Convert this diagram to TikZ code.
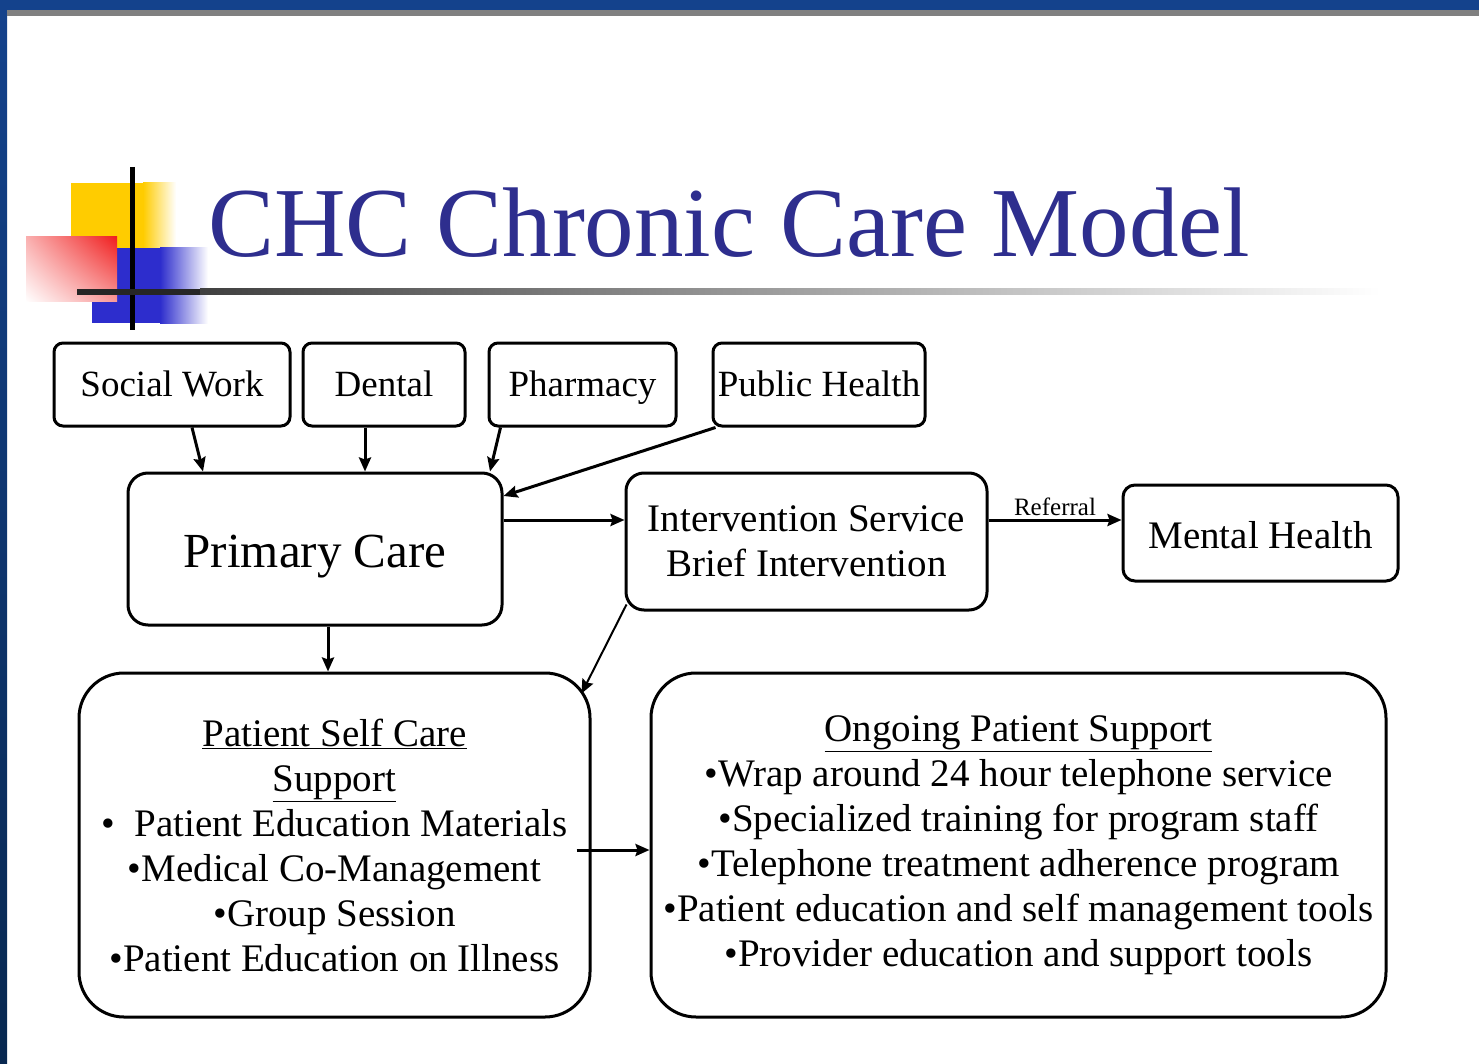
\documentclass[tikz,border=0pt]{standalone}
\usepackage{fontspec}
\setmainfont{Liberation Serif}
\usetikzlibrary{arrows.meta, shadings}
\definecolor{slideblue}{RGB}{20,66,140}
\definecolor{slidenavy}{RGB}{8,40,80}
\definecolor{titleblue}{RGB}{46,46,142}
\definecolor{logoyellow}{RGB}{255,204,0}
\definecolor{logoblue}{RGB}{45,45,205}
\definecolor{logored}{RGB}{240,30,30}

\begin{document}
\begin{tikzpicture}[x=1pt,y=-1pt,
    box/.style={draw, line width=3pt, align=center, inner sep=2pt},
    arr/.style={line width=3pt, -{Stealth[length=14pt,width=12pt,inset=2pt]}},
    small/.style={font=\fontsize{37}{42}\selectfont, text height=28pt, text depth=4pt},
    big/.style={font=\fontsize{39}{45}\selectfont}]
    \useasboundingbox (0,0) rectangle (1479,1064);
    \fill[white] (0,0) rectangle (1479,1064);
    \shade[top color=slideblue, bottom color=slidenavy] (0,0) rectangle (7,1064);
    \fill[slideblue] (0,0) rectangle (1479,10);
    \fill[gray] (7,10) rectangle (1479,16);

    \fill[logoyellow] (71,183) rectangle (143,248);
    \shade[left color=logoyellow, right color=white] (143,183) rectangle (176,248);
    \fill[logoblue] (92,248) rectangle (160,323);
    \shade[left color=logoblue, right color=white] (160,248) rectangle (208,323);
    \shade[upper right=logored, upper left=logored!35, lower right=logored!45, lower left=white] (26,237) rectangle (117,302);
    \draw[line width=5pt] (132,167) -- (132,330);
    \fill[black!85] (77,289) rectangle (200,295);
    \shade[left color=black!75, right color=white] (200,289) rectangle (1380,295);
    \node[anchor=base west, inner sep=0, text=titleblue, font=\fontsize{99}{110}\selectfont] (title) at (208,257) {CHC Chronic Care Model};

    \foreach \name/\x/\w/\txt in {social/172/236/Social Work, dental/384/162/Dental, pharm/582.5/187/Pharmacy, pubhealth/819/212/Public Health}{
        \node[box, small, rounded corners=9pt, minimum width=\w pt, minimum height=83pt] (\name) at (\x,384.5) {\txt};
    }
    \node[box, rounded corners=20pt, minimum width=374pt, minimum height=152pt, font=\fontsize{49}{56}\selectfont, text height=40pt, text depth=4pt] (primary) at (315,549) {Primary Care};
    \node[box, big, rounded corners=18pt, minimum width=361pt, minimum height=137pt] (interv) at (806.5,541.5) {Intervention Service\\Brief Intervention};
    \node[box, big, rounded corners=12pt, minimum width=275pt, minimum height=96pt, text height=33pt, text depth=3pt] (mental) at (1260.5,533) {Mental Health};
    \node[box, big, rounded corners=45pt, minimum width=511pt, minimum height=344pt] (selfcare) at (334.5,845)
        {\underline{Patient Self Care}\\\underline{Support}\\\textbullet\hspace{0.5em}Patient Education Materials\\\textbullet Medical Co-Management\\\textbullet Group Session\\\textbullet Patient Education on Illness};
    \node[box, big, rounded corners=45pt, minimum width=735pt, minimum height=344pt] (ongoing) at (1018.5,845)
        {\underline{Ongoing Patient Support}\\\textbullet Wrap around 24 hour telephone service\\\textbullet Specialized training for program staff\\\textbullet Telephone treatment adherence program\\\textbullet Patient education and self management tools\\\textbullet Provider education and support tools};

    \foreach \from/\dx/\tox in {social/20/-112, dental/-19/50, pharm/-82/175}{
        \draw[arr] ([xshift=\dx pt]\from.south) -- ([xshift=\tox pt]primary.north);
    }
    \draw[arr] ([xshift=4pt]pubhealth.south west) -- ([yshift=53pt]primary.east);
    \draw[arr] ([yshift=29pt]primary.east) -- ([yshift=21.5pt]interv.west);
    \draw[arr] ([yshift=21.5pt]interv.east) -- node[above, inner sep=3pt, font=\fontsize{25}{28}\selectfont] {Referral} ([yshift=13pt]mental.west);
    \draw[arr] ([xshift=13pt]primary.south) -- ([xshift=-6.5pt]selfcare.north);
    \draw[arr, line width=2pt] ([shift={(2pt,7pt)}]interv.south west) -- ([shift={(-10pt,-22pt)}]selfcare.north east);
    \draw[arr] ([shift={(-15pt,-5pt)}]selfcare.east) -- ([yshift=-5pt]ongoing.west);
\end{tikzpicture}
\end{document}
